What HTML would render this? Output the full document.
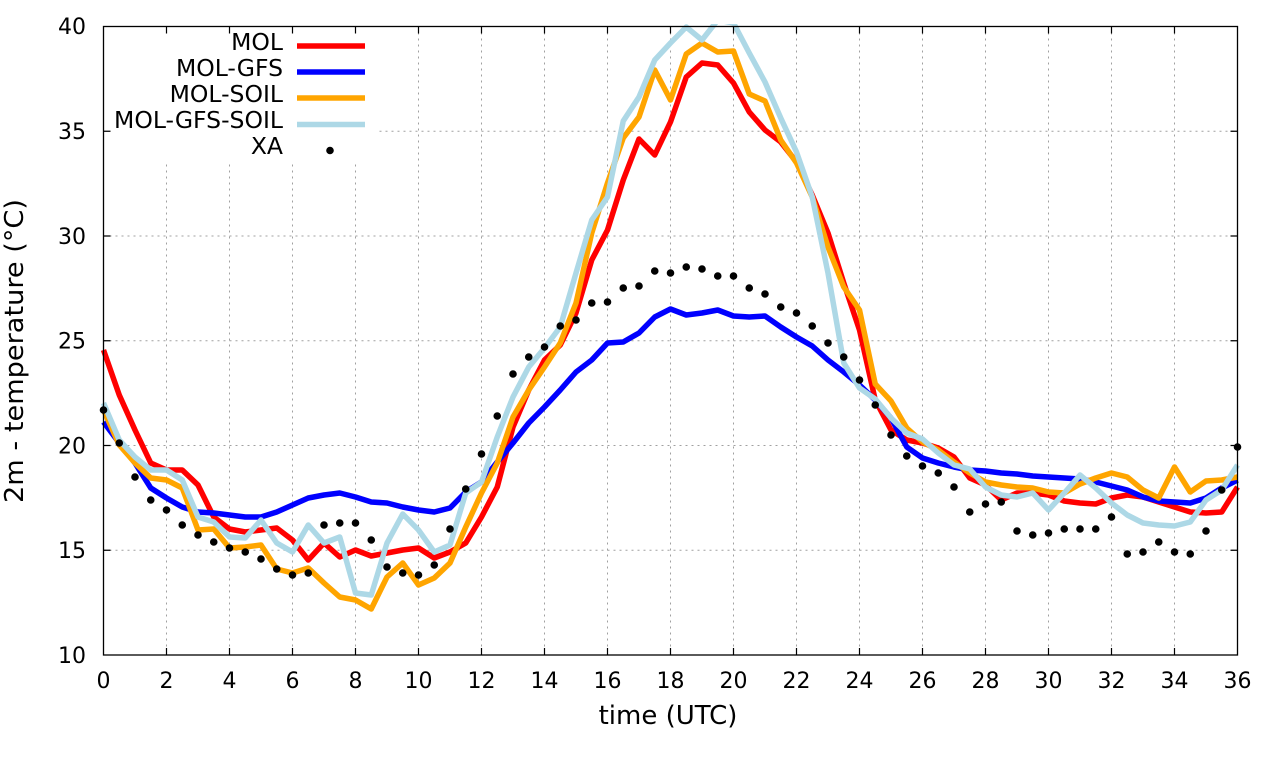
<!DOCTYPE html>
<html>
<head>
<meta charset="utf-8">
<style>
  html, body { margin: 0; padding: 0; background: #ffffff; }
  svg { display: block; }
  text { font-family: "DejaVu Sans", "Liberation Sans", sans-serif; fill: #000; }
</style>
</head>
<body>
<svg width="1280" height="760" viewBox="0 0 1280 760" xmlns="http://www.w3.org/2000/svg">
  <defs>
    <clipPath id="plot">
      <rect x="100" y="24" width="1141" height="634"/>
    </clipPath>
  </defs>
  <rect x="0" y="0" width="1280" height="760" fill="#ffffff"/>

  <path fill="none" stroke="#a0a0a0" stroke-width="1" stroke-dasharray="2,4"
    d="M166.5,26.5V655 M229.5,26.5V655 M292.5,26.5V655 M355.5,26.5V655 M418.5,26.5V655 M481.5,26.5V655 M544.5,26.5V655 M607.5,26.5V655 M670.5,26.5V655 M733.5,26.5V655 M796.5,26.5V655 M859.5,26.5V655 M922.5,26.5V655 M985.5,26.5V655 M1048.5,26.5V655 M1111.5,26.5V655 M1174.5,26.5V655 M103.5,550.25H1237.5 M103.5,445.5H1237.5 M103.5,340.75H1237.5 M103.5,236H1237.5 M103.5,131.25H1237.5"/>

  <rect x="104" y="27" width="273" height="137" fill="#ffffff"/>

  <g clip-path="url(#plot)" fill="none" stroke-width="5.5" stroke-linejoin="round">
    <polyline stroke="#ff0000" points="103.5,350 119.25,395 135,430 150.75,463 166.5,470 182.25,470 198,485 213.75,517 229.5,529 245.25,532 261,530 276.75,528 292.5,540 308.25,560 324,543 339.75,557 355.5,550 371.25,556 387,553 402.75,550 418.5,548 434.25,558 450,552 465.75,543 481.5,517 497.25,487 513,427 528.75,390 544.5,360 560.25,345 576,313 591.75,260 607.5,230 623.25,180 639,139 654.75,155 670.5,122 686.25,77 702,63 717.75,65 733.5,83 749.25,112 765,130 780.75,142 796.5,162 812.25,195 828,233 843.75,283 859.5,330 875.25,400 891,430 906.75,440 922.5,443 938.25,448 954,457 969.75,478 985.5,485 1001.25,500 1017,493 1032.75,493 1048.5,495 1064.25,501 1080,503 1095.75,504 1111.5,498 1127.25,495 1143,497 1158.75,502 1174.5,507 1190.25,512 1206,513 1221.75,512 1237.5,487"/>
    <polyline stroke="#0000ff" points="103.5,422 119.25,443 135,463 150.75,488 166.5,498 182.25,507 198,512 213.75,513 229.5,515 245.25,517 261,517 276.75,512 292.5,505 308.25,498 324,495 339.75,493 355.5,497 371.25,502 387,503 402.75,507 418.5,510 434.25,512 450,508 465.75,492 481.5,482 497.25,462 513,443 528.75,423 544.5,407 560.25,390 576,372 591.75,360 607.5,343 623.25,342 639,333 654.75,317 670.5,309 686.25,315 702,313 717.75,310 733.5,316 749.25,317 765,316 780.75,327 796.5,337 812.25,346 828,360 843.75,372 859.5,385 875.25,400 891,418 906.75,447 922.5,458 938.25,463 954,467 969.75,470 985.5,471 1001.25,473 1017,474 1032.75,476 1048.5,477 1064.25,478 1080,479 1095.75,482 1111.5,486 1127.25,490 1143,497 1158.75,501 1174.5,502 1190.25,503 1206,498 1221.75,488 1237.5,480"/>
    <polyline stroke="#ffa500" points="103.5,410 119.25,445 135,463 150.75,478 166.5,480 182.25,488 198,530 213.75,529 229.5,548 245.25,547 261,545 276.75,569 292.5,573 308.25,568 324,583 339.75,597 355.5,600 371.25,609 387,577 402.75,563 418.5,585 434.25,578 450,563 465.75,527 481.5,493 497.25,463 513,417 528.75,390 544.5,367 560.25,343 576,303 591.75,233 607.5,183 623.25,138 639,117 654.75,70 670.5,100 686.25,54 702,43 717.75,52 733.5,51 749.25,94 765,101 780.75,140 796.5,163 812.25,197 828,247 843.75,287 859.5,310 875.25,384 891,401 906.75,428 922.5,442 938.25,450 954,462 969.75,473 985.5,482 1001.25,485 1017,487 1032.75,488 1048.5,492 1064.25,493 1080,484 1095.75,478 1111.5,473 1127.25,477 1143,490 1158.75,498 1174.5,467 1190.25,492 1206,481 1221.75,480 1237.5,477"/>
    <polyline stroke="#add8e6" points="103.5,403 119.25,440 135,457 150.75,470 166.5,470 182.25,480 198,517 213.75,522 229.5,537 245.25,538 261,520 276.75,543 292.5,552 308.25,525 324,543 339.75,537 355.5,593 371.25,595 387,543 402.75,514 418.5,530 434.25,552 450,545 465.75,493 481.5,482 497.25,437 513,397 528.75,367 544.5,348 560.25,327 576,273 591.75,220 607.5,197 623.25,121 639,97 654.75,60 670.5,43 686.25,27 702,40 717.75,20 733.5,23 749.25,53 765,82 780.75,118 796.5,152 812.25,197 828,273 843.75,363 859.5,388 875.25,399 891,418 906.75,433 922.5,439 938.25,453 954,465 969.75,469 985.5,487 1001.25,495 1017,497 1032.75,493 1048.5,510 1064.25,493 1080,475 1095.75,488 1111.5,503 1127.25,515 1143,523 1158.75,525 1174.5,526 1190.25,522 1206,500 1221.75,490 1237.5,465"/>
  </g>

  <path fill="none" stroke="#000" stroke-width="7.6" stroke-linecap="round"
    d="M103.5,410h0M119.25,443h0M135,477h0M150.75,500h0M166.5,510h0M182.25,525h0M198,535h0M213.75,542h0M229.5,548h0M245.25,552h0M261,559h0M276.75,569h0M292.5,575h0M308.25,573h0M324,525h0M339.75,523h0M355.5,523h0M371.25,540h0M387,567h0M402.75,573h0M418.5,575h0M434.25,565h0M450,529h0M465.75,489h0M481.5,454h0M497.25,416h0M513,374h0M528.75,357h0M544.5,347h0M560.25,326h0M576,320h0M591.75,303h0M607.5,302h0M623.25,288h0M639,286h0M654.75,271h0M670.5,273h0M686.25,267h0M702,269h0M717.75,276h0M733.5,276h0M749.25,288h0M765,294h0M780.75,307h0M796.5,313h0M812.25,326h0M828,343h0M843.75,357h0M859.5,380h0M875.25,405h0M891,435h0M906.75,456h0M922.5,466h0M938.25,473h0M954,487h0M969.75,512h0M985.5,504h0M1001.25,502h0M1017,531h0M1032.75,535h0M1048.5,533h0M1064.25,529h0M1080,529h0M1095.75,529h0M1111.5,517h0M1127.25,554h0M1143,552h0M1158.75,542h0M1174.5,552h0M1190.25,554h0M1206,531h0M1221.75,490h0M1237.5,447h0M330,150.5h0"/>

  <rect x="103.5" y="26.5" width="1134" height="628.5" fill="none" stroke="#000" stroke-width="1.3"/>

  <path fill="none" stroke="#000" stroke-width="1.2"
    d="M166.5,655v-7M229.5,655v-7M292.5,655v-7M355.5,655v-7M418.5,655v-7M481.5,655v-7M544.5,655v-7M607.5,655v-7M670.5,655v-7M733.5,655v-7M796.5,655v-7M859.5,655v-7M922.5,655v-7M985.5,655v-7M1048.5,655v-7M1111.5,655v-7M1174.5,655v-7
       M166.5,26.5v7M229.5,26.5v7M292.5,26.5v7M355.5,26.5v7M418.5,26.5v7M481.5,26.5v7M544.5,26.5v7M607.5,26.5v7M670.5,26.5v7M733.5,26.5v7M796.5,26.5v7M859.5,26.5v7M922.5,26.5v7M985.5,26.5v7M1048.5,26.5v7M1111.5,26.5v7M1174.5,26.5v7
       M103.5,550.25h7M103.5,445.5h7M103.5,340.75h7M103.5,236h7M103.5,131.25h7
       M1237.5,550.25h-7M1237.5,445.5h-7M1237.5,340.75h-7M1237.5,236h-7M1237.5,131.25h-7"/>

  <g font-size="22" text-anchor="end">
    <text x="86" y="663">10</text>
    <text x="86" y="558">15</text>
    <text x="86" y="453.5">20</text>
    <text x="86" y="348.5">25</text>
    <text x="86" y="244">30</text>
    <text x="86" y="139">35</text>
    <text x="86" y="34">40</text>
  </g>

  <g font-size="22" text-anchor="middle">
    <text x="103.5" y="688">0</text>
    <text x="166.5" y="688">2</text>
    <text x="229.5" y="688">4</text>
    <text x="292.5" y="688">6</text>
    <text x="355.5" y="688">8</text>
    <text x="418.5" y="688">10</text>
    <text x="481.5" y="688">12</text>
    <text x="544.5" y="688">14</text>
    <text x="607.5" y="688">16</text>
    <text x="670.5" y="688">18</text>
    <text x="733.5" y="688">20</text>
    <text x="796.5" y="688">22</text>
    <text x="859.5" y="688">24</text>
    <text x="922.5" y="688">26</text>
    <text x="985.5" y="688">28</text>
    <text x="1048.5" y="688">30</text>
    <text x="1111.5" y="688">32</text>
    <text x="1174.5" y="688">34</text>
    <text x="1237.5" y="688">36</text>
  </g>

  <text x="668" y="724" font-size="26" text-anchor="middle">time (UTC)</text>
  <text transform="translate(23,351) rotate(-90)" font-size="26" text-anchor="middle" textLength="304" lengthAdjust="spacingAndGlyphs">2m - temperature (°C)</text>

  <g font-size="23.5" text-anchor="end">
    <text x="283" y="50">MOL</text>
    <text x="283" y="76">MOL-GFS</text>
    <text x="283" y="102">MOL-SOIL</text>
    <text x="283" y="128">MOL-GFS-SOIL</text>
    <text x="283" y="154">XA</text>
  </g>
  <path fill="none" stroke-width="5.5" stroke="#ff0000" d="M297,46H365"/>
  <path fill="none" stroke-width="5.5" stroke="#0000ff" d="M297,72H365"/>
  <path fill="none" stroke-width="5.5" stroke="#ffa500" d="M297,98H365"/>
  <path fill="none" stroke-width="5.5" stroke="#add8e6" d="M297,124.5H365"/>
</svg>
</body>
</html>
